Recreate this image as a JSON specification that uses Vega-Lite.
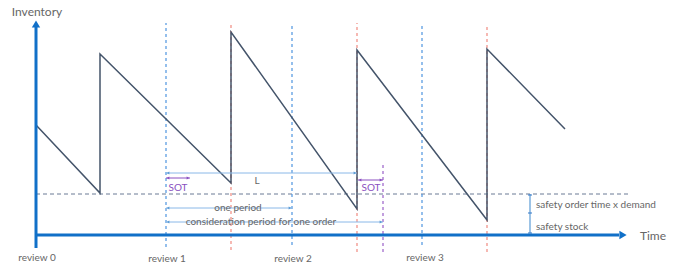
{
  "$schema": "https://vega.github.io/schema/vega-lite/v6.json",
  "width": 675,
  "height": 267,
  "padding": 0,
  "autosize": {"type": "none"},
  "background": "white",
  "config": {"view": {"stroke": null}, "font": "Lato"},
  "layer": [
    {
      "data": {"values": [{"x": 36, "x2": 628, "y": 73}]},
      "mark": {"type": "rule", "color": "#6a7b95", "strokeDash": [4, 3], "strokeWidth": 1},
      "encoding": {
        "x": {"field": "x", "type": "quantitative", "scale": {"domain": [0, 675], "nice": false, "zero": false}, "axis": null},
        "x2": {"field": "x2"},
        "y": {"field": "y", "type": "quantitative", "scale": {"domain": [0, 267], "nice": false, "zero": false}, "axis": null}
      }
    },
    {
      "data": {"values": [{"x": 166, "y": 20, "y2": 244}, {"x": 292, "y": 22, "y2": 244}, {"x": 422, "y": 22, "y2": 244}]},
      "mark": {"type": "rule", "color": "#4f95e0", "strokeDash": [3, 3], "strokeWidth": 1.2},
      "encoding": {
        "x": {"field": "x", "type": "quantitative", "axis": null},
        "y": {"field": "y", "type": "quantitative", "axis": null},
        "y2": {"field": "y2"}
      }
    },
    {
      "data": {"values": [{"x": 231, "y": 17, "y2": 243}, {"x": 357, "y": 15, "y2": 244}, {"x": 487, "y": 15, "y2": 243}]},
      "mark": {"type": "rule", "color": "#f08a80", "strokeDash": [3, 3], "strokeWidth": 1.2},
      "encoding": {
        "x": {"field": "x", "type": "quantitative", "axis": null},
        "y": {"field": "y", "type": "quantitative", "axis": null},
        "y2": {"field": "y2"}
      }
    },
    {
      "data": {"values": [{"x": 383, "y": 15, "y2": 102}]},
      "mark": {"type": "rule", "color": "#9a60c8", "strokeDash": [3, 3], "strokeWidth": 1.2},
      "encoding": {
        "x": {"field": "x", "type": "quantitative", "axis": null},
        "y": {"field": "y", "type": "quantitative", "axis": null},
        "y2": {"field": "y2"}
      }
    },
    {
      "data": {"values": [
        {"i": 0, "x": 36, "y": 142},
        {"i": 1, "x": 100, "y": 74},
        {"i": 2, "x": 100, "y": 213},
        {"i": 3, "x": 231, "y": 84},
        {"i": 4, "x": 231, "y": 235},
        {"i": 5, "x": 357, "y": 58},
        {"i": 6, "x": 357, "y": 217},
        {"i": 7, "x": 487, "y": 47},
        {"i": 8, "x": 487, "y": 218},
        {"i": 9, "x": 565, "y": 138}
      ]},
      "mark": {"type": "line", "color": "#44546a", "strokeWidth": 1.5},
      "encoding": {
        "x": {"field": "x", "type": "quantitative", "axis": null},
        "y": {"field": "y", "type": "quantitative", "axis": null},
        "order": {"field": "i", "type": "quantitative"}
      }
    },
    {
      "data": {"values": [{"x": 166, "x2": 357, "y": 94}, {"x": 166, "x2": 292, "y": 59}, {"x": 166, "x2": 383, "y": 45}]},
      "mark": {"type": "rule", "color": "#8ab8e8", "strokeWidth": 1},
      "encoding": {
        "x": {"field": "x", "type": "quantitative", "axis": null},
        "x2": {"field": "x2"},
        "y": {"field": "y", "type": "quantitative", "axis": null}
      }
    },
    {
      "data": {"values": [{"x": 168, "y": 94}, {"x": 168, "y": 59}, {"x": 168, "y": 45}]},
      "mark": {"type": "point", "shape": "triangle-left", "filled": true, "color": "#5b9bd5", "size": 10, "opacity": 1},
      "encoding": {
        "x": {"field": "x", "type": "quantitative", "axis": null},
        "y": {"field": "y", "type": "quantitative", "axis": null}
      }
    },
    {
      "data": {"values": [{"x": 355, "y": 94}, {"x": 290, "y": 59}, {"x": 381, "y": 45}]},
      "mark": {"type": "point", "shape": "triangle-right", "filled": true, "color": "#5b9bd5", "size": 10, "opacity": 1},
      "encoding": {
        "x": {"field": "x", "type": "quantitative", "axis": null},
        "y": {"field": "y", "type": "quantitative", "axis": null}
      }
    },
    {
      "data": {"values": [{"x": 166, "x2": 190, "y": 89}, {"x": 358, "x2": 383, "y": 87}]},
      "mark": {"type": "rule", "color": "#8a4fc0", "strokeWidth": 1},
      "encoding": {
        "x": {"field": "x", "type": "quantitative", "axis": null},
        "x2": {"field": "x2"},
        "y": {"field": "y", "type": "quantitative", "axis": null}
      }
    },
    {
      "data": {"values": [{"x": 168, "y": 89}, {"x": 360, "y": 87}]},
      "mark": {"type": "point", "shape": "triangle-left", "filled": true, "color": "#8a4fc0", "size": 10, "opacity": 1},
      "encoding": {
        "x": {"field": "x", "type": "quantitative", "axis": null},
        "y": {"field": "y", "type": "quantitative", "axis": null}
      }
    },
    {
      "data": {"values": [{"x": 188, "y": 89}, {"x": 381, "y": 87}]},
      "mark": {"type": "point", "shape": "triangle-right", "filled": true, "color": "#8a4fc0", "size": 10, "opacity": 1},
      "encoding": {
        "x": {"field": "x", "type": "quantitative", "axis": null},
        "y": {"field": "y", "type": "quantitative", "axis": null}
      }
    },
    {
      "data": {"values": [{"x": 530, "y": 34, "y2": 73}]},
      "mark": {"type": "rule", "color": "#5b9bd5", "strokeWidth": 1.2},
      "encoding": {
        "x": {"field": "x", "type": "quantitative", "axis": null},
        "y": {"field": "y", "type": "quantitative", "axis": null},
        "y2": {"field": "y2"}
      }
    },
    {
      "data": {"values": [{"x": 530, "y": 34}, {"x": 530, "y": 54}, {"x": 530, "y": 72}]},
      "mark": {"type": "tick", "orient": "horizontal", "color": "#3a7cc8", "size": 4, "thickness": 1.5},
      "encoding": {
        "x": {"field": "x", "type": "quantitative", "axis": null},
        "y": {"field": "y", "type": "quantitative", "axis": null}
      }
    },
    {
      "data": {"values": [{"x": 36, "x2": 36, "y": 19, "y2": 241}, {"x": 36, "x2": 619, "y": 32, "y2": 32}]},
      "mark": {"type": "rule", "color": "#1170c8", "strokeWidth": 3},
      "encoding": {
        "x": {"field": "x", "type": "quantitative", "axis": null},
        "x2": {"field": "x2"},
        "y": {"field": "y", "type": "quantitative", "axis": null},
        "y2": {"field": "y2"}
      }
    },
    {
      "data": {"values": [{"x": 36, "y": 243}]},
      "mark": {"type": "point", "shape": "triangle-up", "filled": true, "color": "#1170c8", "size": 70, "opacity": 1},
      "encoding": {
        "x": {"field": "x", "type": "quantitative", "axis": null},
        "y": {"field": "y", "type": "quantitative", "axis": null}
      }
    },
    {
      "data": {"values": [{"x": 623, "y": 32}]},
      "mark": {"type": "point", "shape": "triangle-right", "filled": true, "color": "#1170c8", "size": 70, "opacity": 1},
      "encoding": {
        "x": {"field": "x", "type": "quantitative", "axis": null},
        "y": {"field": "y", "type": "quantitative", "axis": null}
      }
    },
    {
      "data": {"values": [
        {"x": 37, "y": 9, "t": "review 0"},
        {"x": 167, "y": 8, "t": "review 1"},
        {"x": 293, "y": 8, "t": "review 2"},
        {"x": 425, "y": 9, "t": "review 3"},
        {"x": 257, "y": 86, "t": "L"},
        {"x": 238, "y": 59, "t": "one period"},
        {"x": 261, "y": 45, "t": "consideration period for one order"}
      ]},
      "mark": {"type": "text", "color": "#666666", "fontSize": 10, "align": "center", "baseline": "middle"},
      "encoding": {
        "x": {"field": "x", "type": "quantitative", "axis": null},
        "y": {"field": "y", "type": "quantitative", "axis": null},
        "text": {"field": "t"}
      }
    },
    {
      "data": {"values": [
        {"x": 536, "y": 62, "t": "safety order time x demand"},
        {"x": 536, "y": 40, "t": "safety stock"}
      ]},
      "mark": {"type": "text", "color": "#666666", "fontSize": 10, "align": "left", "baseline": "middle"},
      "encoding": {
        "x": {"field": "x", "type": "quantitative", "axis": null},
        "y": {"field": "y", "type": "quantitative", "axis": null},
        "text": {"field": "t"}
      }
    },
    {
      "data": {"values": [
        {"x": 37, "y": 255, "t": "Inventory", "s": "a"},
        {"x": 653, "y": 31, "t": "Time", "s": "b"}
      ]},
      "mark": {"type": "text", "color": "#666666", "fontSize": 12, "align": "center", "baseline": "middle"},
      "encoding": {
        "x": {"field": "x", "type": "quantitative", "axis": null},
        "y": {"field": "y", "type": "quantitative", "axis": null},
        "text": {"field": "t"}
      }
    },
    {
      "data": {"values": [
        {"x": 178, "y": 79, "t": "SOT"},
        {"x": 371, "y": 79, "t": "SOT"}
      ]},
      "mark": {"type": "text", "color": "#8a4fc0", "fontSize": 10, "align": "center", "baseline": "middle"},
      "encoding": {
        "x": {"field": "x", "type": "quantitative", "axis": null},
        "y": {"field": "y", "type": "quantitative", "axis": null},
        "text": {"field": "t"}
      }
    }
  ]
}
